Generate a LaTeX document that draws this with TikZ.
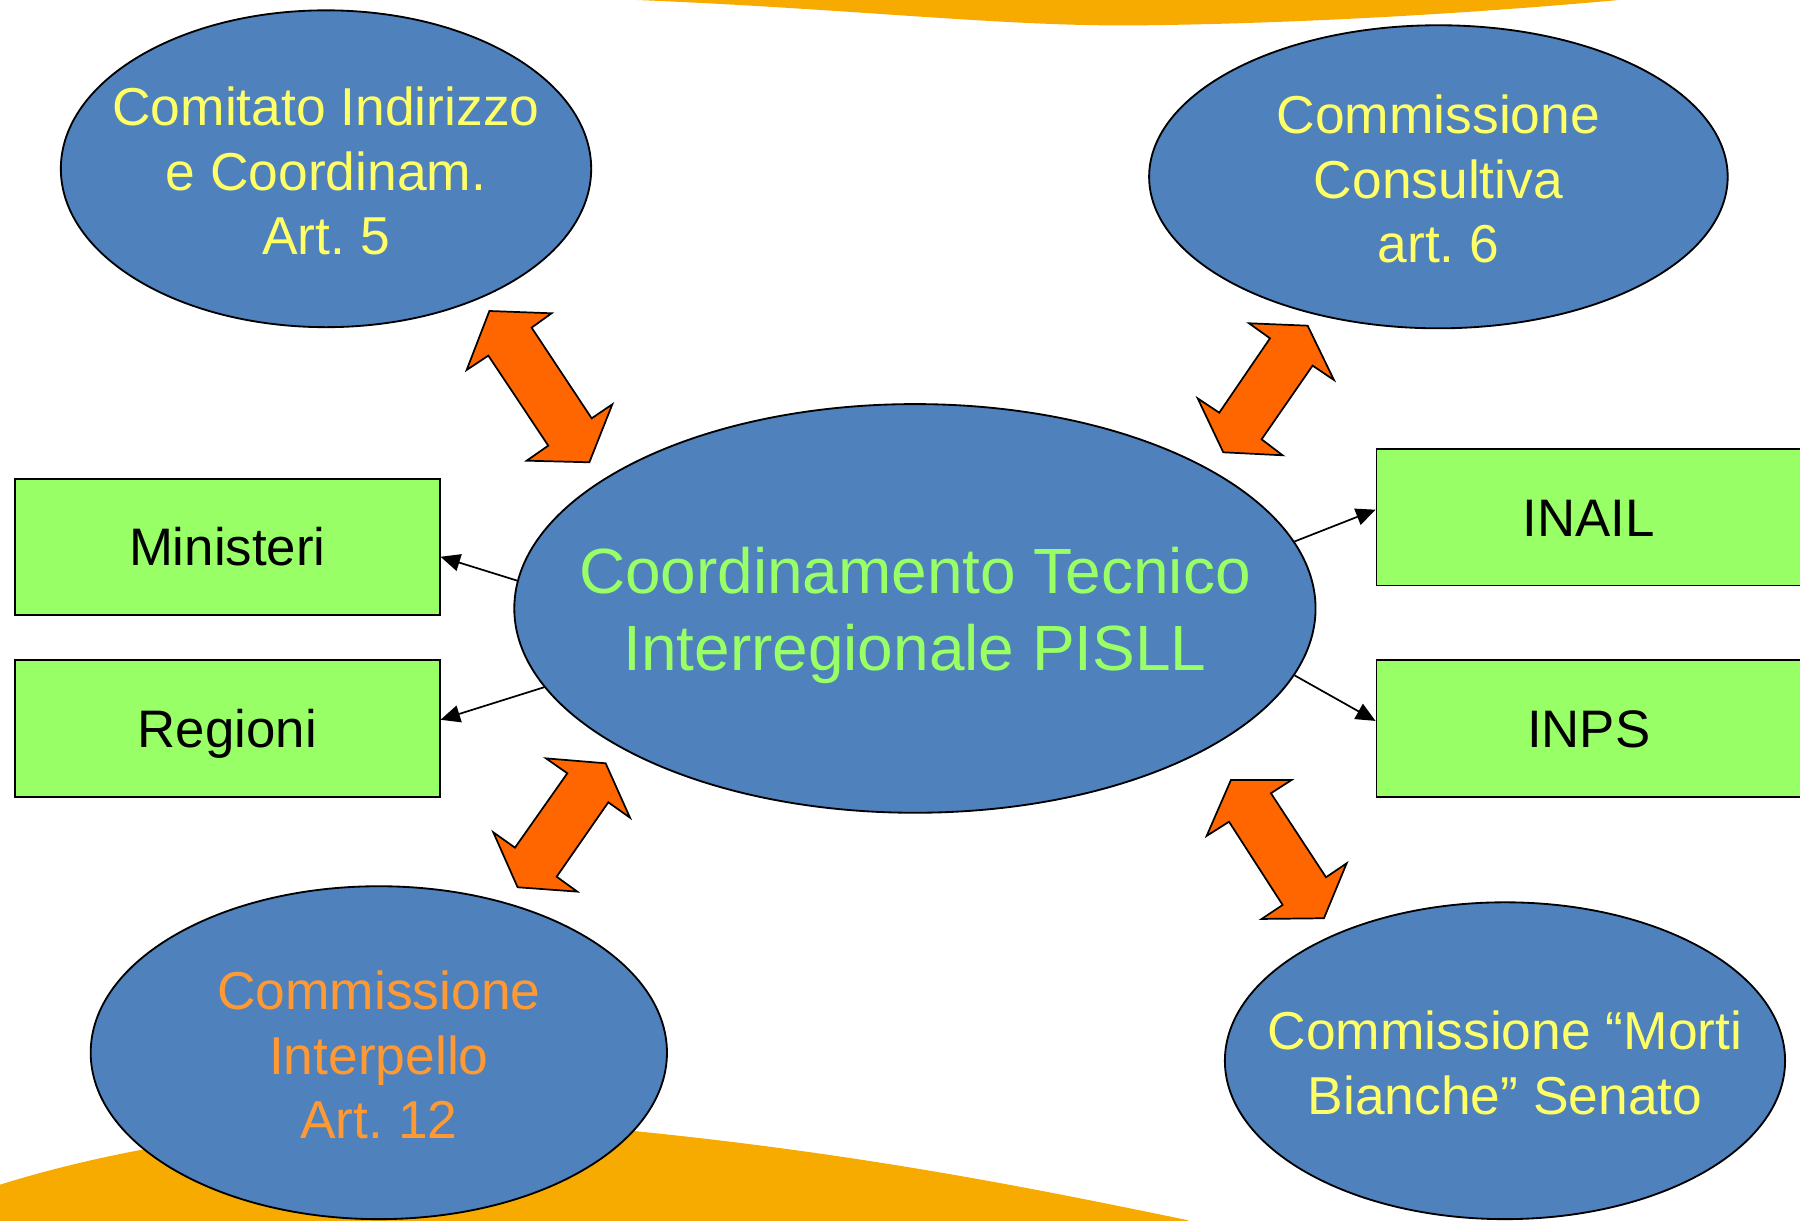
\documentclass[tikz,border=0pt]{standalone}
\usepackage{fontspec}
\setmainfont{Liberation Sans}
\usetikzlibrary{shapes.geometric,arrows.meta}
\definecolor{bubblefill}{HTML}{4F81BD}
\definecolor{boxgreen}{HTML}{99FF66}
\definecolor{blockorange}{HTML}{FF6600}
\definecolor{bandorange}{RGB}{247,170,0}
\definecolor{txtyellow}{HTML}{FFFF66}
\definecolor{txtgreen}{HTML}{99FF66}
\definecolor{txtorange}{HTML}{FF9933}
\frenchspacing
\begin{document}
\begin{tikzpicture}[x=1pt,y=-1pt,
  bubble/.style={ellipse,draw=black,line width=1.6pt,fill=bubblefill,inner sep=0pt},
  boxnode/.style={rectangle,draw=black,line width=1.5pt,fill=boxgreen,minimum width=370pt,minimum height=119pt,inner sep=0pt,text height=33pt,text depth=0pt,font=\fontsize{46}{55}\selectfont},
  labeltext/.style={align=center,inner sep=0pt,font=\fontsize{46.5}{56}\selectfont},
  conn/.style={-{Triangle[length=17pt,width=15pt]},line width=1.5pt},
  blockarrow/.style={fill=blockorange,draw=black,line width=1.5pt,line join=miter}]

\useasboundingbox (0,0) rectangle (1568,1063);

% background bands
\fill[bandorange] (555,-5) -- (555,0) .. controls (750,8) and (880,24) .. (1000,22)
   .. controls (1150,20) and (1300,10) .. (1410,0) -- (1410,-5) -- cycle;
\fill[bandorange] (0,1032) .. controls (150,985) and (350,965) .. (550,985)
   .. controls (750,1005) and (900,1035) .. (1035,1063) -- (1035,1070) -- (0,1070) -- cycle;

% ellipses
\node[bubble,minimum width=462pt,minimum height=276pt] (comitato) at (284,147) {};
\node[labeltext,text=txtyellow] at ([yshift=-2pt]comitato.center) {Comitato Indirizzo\\e Coordinam.\\Art. 5};

\node[bubble,minimum width=504pt,minimum height=264pt] (consultiva) at (1253,154) {};
\node[labeltext,text=txtyellow] at ([yshift=-2pt]consultiva.center) {Commissione\\Consultiva\\art. 6};

\node[bubble,minimum width=698pt,minimum height=356pt] (central) at (797,530) {};
\node[labeltext,text=txtgreen,font=\fontsize{55.7}{67}\selectfont] at ([yshift=-6pt]central.center) {Coordinamento Tecnico\\Interregionale PISLL};

\node[bubble,minimum width=502pt,minimum height=290pt] (interpello) at (330,917) {};
\node[labeltext,text=txtorange] at ([yshift=-2pt]interpello.center) {Commissione\\Interpello\\Art. 12};

\node[bubble,minimum width=488pt,minimum height=276pt] (morti) at (1311,924) {};
\node[labeltext,text=txtyellow] at ([yshift=-2pt]morti.center) {Commissione “Morti\\Bianche” Senato};

% boxes
\node[boxnode] (ministeri) at (198,476.5) {Ministeri};
\node[boxnode] (regioni) at (198,634.5) {Regioni};
\node[boxnode] (inail) at (1384,450.5) {INAIL};
\node[boxnode] (inps) at (1384,634.5) {INPS};

% thin connectors
\draw[conn] (central.176.7) -- ([yshift=-8.5pt]ministeri.east);
\draw[conn] (central.192.6) -- ([yshift=7.5pt]regioni.east);
\draw[conn] (central.10.1) -- ([yshift=6.5pt]inail.west);
\draw[conn] (central.-10) -- ([yshift=6.5pt]inps.west);

% double block arrows
\draw[blockarrow] (426.3,270.9) -- (480.5,272.9) -- (463.1,285.4) -- (515.4,364.4) -- (533.4,352.2)
  -- (513.4,402.7) -- (458.8,401.3) -- (477.6,388.2) -- (425.4,309.8) -- (406.5,322.3) -- cycle;
\draw[blockarrow] (1088,281.6) -- (1139.1,283.7) -- (1162,331) -- (1143.4,318.5) -- (1099,382.7)
  -- (1117.3,396.6) -- (1065.6,394) -- (1043.3,347) -- (1062.1,359.5) -- (1106.3,294.7) -- cycle;
\draw[blockarrow] (475.6,660.6) -- (527.6,664.9) -- (548.8,712.3) -- (529.9,698.9) -- (484.9,763.7)
  -- (502.9,776.7) -- (450.9,772.9) -- (429.7,725) -- (448.6,738.4) -- (494.2,673.6) -- cycle;
\draw[blockarrow] (1072.3,679.4) -- (1125.2,679.4) -- (1107.1,691) -- (1155.1,764.2) -- (1173.1,752)
  -- (1153.3,799.9) -- (1099,800.5) -- (1117.3,788.3) -- (1070.6,715.8) -- (1051.1,728.2) -- cycle;
\end{tikzpicture}
\end{document}
